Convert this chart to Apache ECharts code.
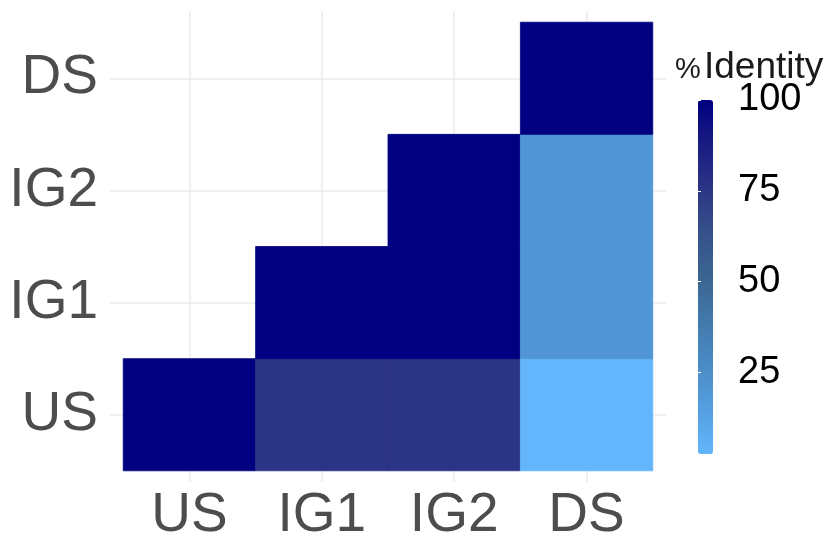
<!DOCTYPE html>
<html>
<head>
<meta charset="utf-8">
<script src="https://cdn.jsdelivr.net/npm/echarts@6/dist/echarts.min.js"></script>
<style>
  html, body { margin: 0; padding: 0; background: #ffffff; }
  #chart { width: 831px; height: 543px; }
</style>
</head>
<body>
<div id="chart"></div>
<script>
// Region names, in axis order (bottom-to-top on y, left-to-right on x)
const regions = ['US', 'IG1', 'IG2', 'DS'];

// Pairwise % identity, one list per column, starting from the US row upward
const usColumn  = [100];
const ig1Column = [76, 100];
const ig2Column = [76, 100, 100];
const dsColumn  = [2.5, 20, 20, 100];

// Colour bar scale
const identityMin = 2.5;
const identityMax = 100;
const legendTicks = [25, 50, 75, 100];
const rampColors = ['#63b6fb', '#559fe0', '#4a8bc6', '#4279ab', '#3b6591',
                    '#35518a', '#2c3585', '#1a1c82', '#000080'];

const columns = [usColumn, ig1Column, ig2Column, dsColumn];
const cells = [];
columns.forEach((col, xi) => {
  col.forEach((v, yi) => { cells.push([xi, yi, v]); });
});

const idx = regions.map((_, i) => i);
const FONT = "'Liberation Sans', Arial, sans-serif";

const chart = echarts.init(document.getElementById('chart'), null, { renderer: 'canvas' });

chart.setOption({
  backgroundColor: '#ffffff',
  animation: false,
  title: [
    { text: '%', left: 670, top: 50, textStyle: { fontFamily: FONT, fontSize: 29, fontWeight: 'normal', color: '#1a1a1a' } },
    { text: 'Identity', left: 699, top: 44, textStyle: { fontFamily: FONT, fontSize: 37, fontWeight: 'normal', color: '#1a1a1a' } }
  ],
  grid: [
    { left: 110, top: 11, width: 556, height: 474 },
    { left: 698, top: 100, width: 15, height: 354 }
  ],
  xAxis: [
    {
      type: 'value', gridIndex: 0, min: -0.6, max: 3.6,
      axisLine: { show: false },
      axisTick: { show: false, customValues: idx },
      axisLabel: {
        customValues: idx, margin: 6,
        formatter: v => regions[Math.round(v)],
        fontFamily: FONT, fontSize: 55, color: '#4d4d4d'
      },
      splitLine: { show: true, lineStyle: { color: '#ebebeb', width: 1.6 } }
    },
    { type: 'value', gridIndex: 1, show: false, min: 0, max: 1 }
  ],
  yAxis: [
    {
      type: 'value', gridIndex: 0, min: -0.6, max: 3.6,
      axisLine: { show: false },
      axisTick: { show: false, customValues: idx },
      axisLabel: {
        customValues: idx, margin: 12,
        formatter: v => regions[Math.round(v)],
        fontFamily: FONT, fontSize: 55, color: '#4d4d4d'
      },
      splitLine: { show: true, lineStyle: { color: '#ebebeb', width: 1.6 } }
    },
    {
      type: 'value', gridIndex: 1, position: 'right', min: identityMin, max: identityMax, z: 10,
      axisLine: { show: false },
      axisTick: { show: true, inside: true, length: 3, customValues: legendTicks, lineStyle: { color: '#ffffff', width: 1 } },
      axisLabel: { customValues: legendTicks, margin: 25, fontFamily: FONT, fontSize: 38, color: '#000000' },
      splitLine: { show: false }
    },
    {
      type: 'value', gridIndex: 1, position: 'left', min: identityMin, max: identityMax, z: 10,
      axisLine: { show: false },
      axisTick: { show: true, inside: true, length: 3, customValues: legendTicks, lineStyle: { color: '#ffffff', width: 1 } },
      axisLabel: { show: false },
      splitLine: { show: false }
    }
  ],
  visualMap: {
    type: 'continuous',
    seriesIndex: 0,
    dimension: 2,
    min: identityMin,
    max: identityMax,
    calculable: false,
    realtime: false,
    orient: 'vertical',
    left: 698,
    top: 100,
    padding: 0,
    itemWidth: 15,
    itemHeight: 354,
    text: null,
    showLabel: false,
    inRange: { color: rampColors }
  },
  series: [
    {
      type: 'custom',
      xAxisIndex: 0,
      yAxisIndex: 0,
      data: cells,
      encode: { x: 0, y: 1 },
      renderItem: function (params, api) {
        const x = api.value(0), y = api.value(1);
        const p0 = api.coord([x - 0.5, y + 0.5]);
        const p1 = api.coord([x + 0.5, y - 0.5]);
        const color = api.visual('color');
        return {
          type: 'rect',
          shape: { x: p0[0], y: p0[1], width: p1[0] - p0[0], height: p1[1] - p0[1] },
          style: { fill: color, stroke: color, lineWidth: 0.8 }
        };
      }
    }
  ]
});
</script>
</body>
</html>
